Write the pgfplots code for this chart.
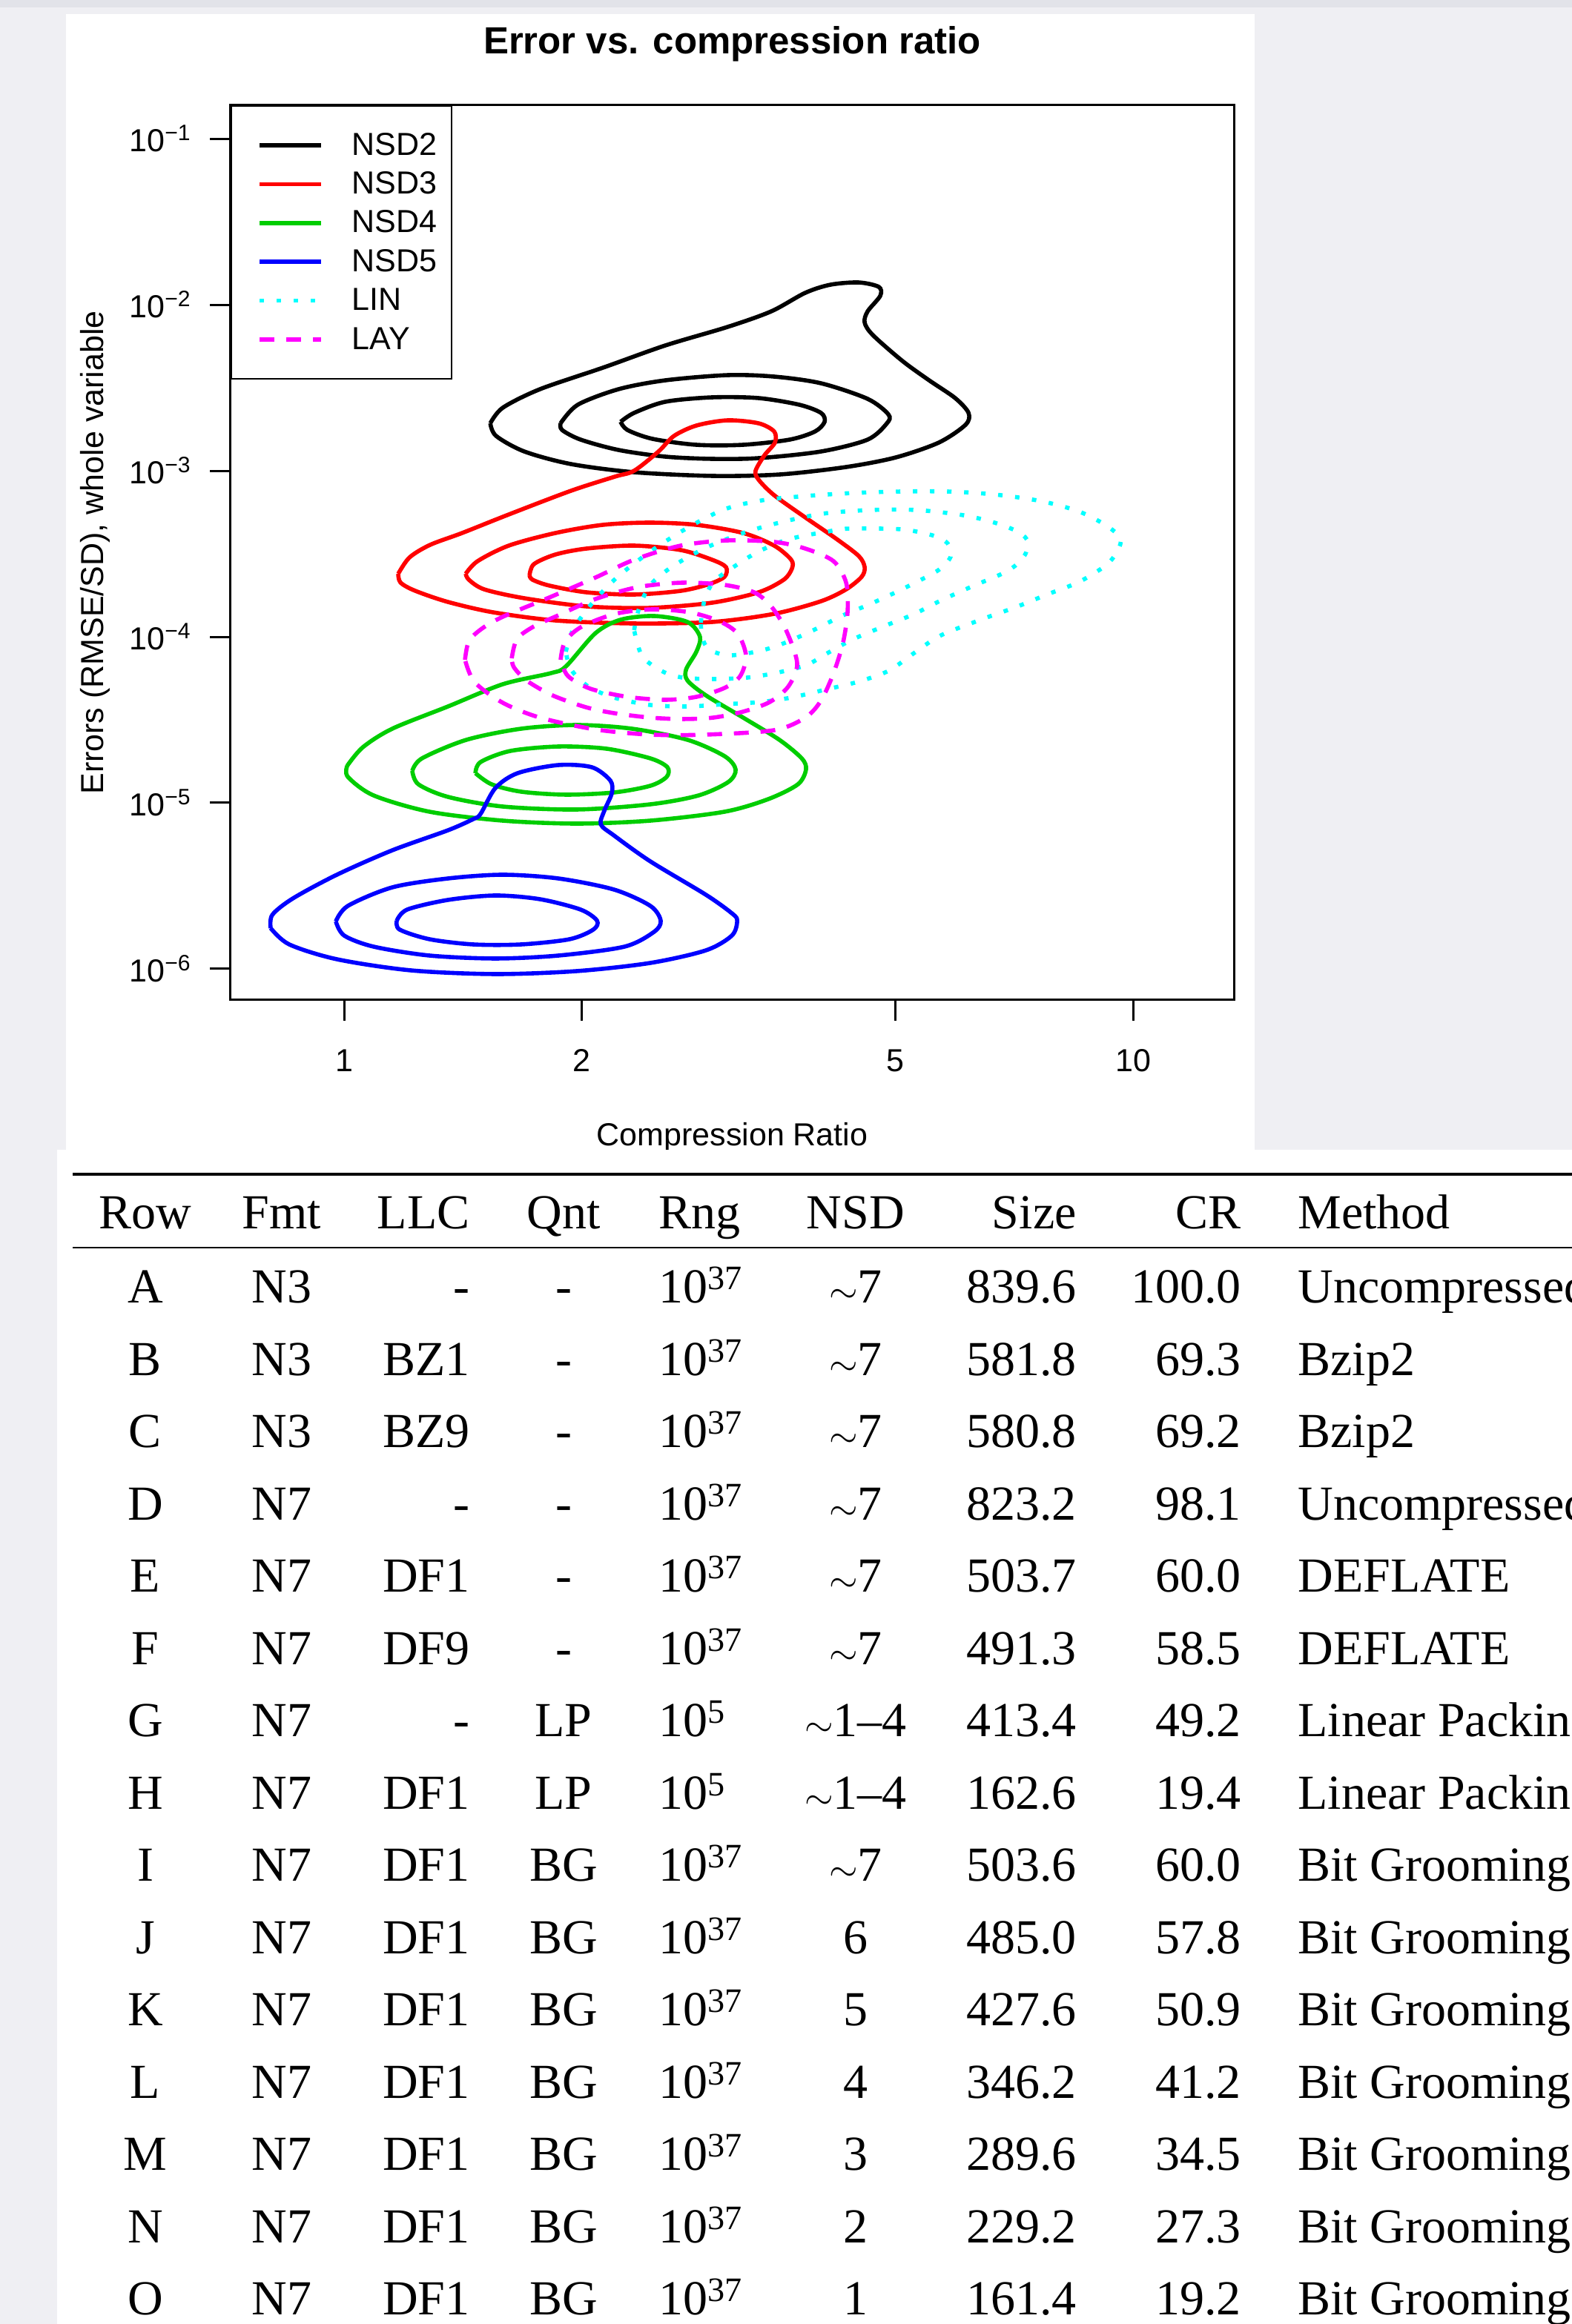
\documentclass[border=0pt]{standalone}
\usepackage{fontspec}
\setmainfont{Liberation Sans}
\newfontfamily\tablefont{Liberation Serif}
\usepackage{pgfplots}
\pgfplotsset{compat=1.18}
\definecolor{bggray}{RGB}{239,239,243}
\definecolor{topband}{RGB}{226,227,233}
\definecolor{rgreen}{RGB}{0,205,0}
\definecolor{rred}{RGB}{255,0,0}
\definecolor{rblue}{RGB}{0,0,255}
\definecolor{rcyan}{RGB}{0,255,255}
\definecolor{rmagenta}{RGB}{255,0,255}
\newcommand{\axfont}{\fontsize{21.5bp}{25bp}\selectfont}
\newcommand{\trow}[9]{%
 \node[anchor=base] at (98,\ry) {#1};
 \node[anchor=base] at (190,\ry) {#2};
 \node[anchor=base east] at (317,\ry) {#3};
 \node[anchor=base] at (380,\ry) {#4};
 \node[anchor=base west] at (444,\ry) {#5};
 \node[anchor=base] at (577,\ry) {#6};
 \node[anchor=base east] at (726,\ry) {#7};
 \node[anchor=base east] at (837,\ry) {#8};
 \node[anchor=base west] at (875,\ry) {#9};
}
\begin{document}
\begin{tikzpicture}
\begin{scope}[x=1bp,y=-1bp,shift={(0,1567.5bp)}]
 \fill[bggray] (0,0) rectangle (1060,1567.5);
 \fill[topband] (0,0) rectangle (1060,5);
 \fill[white] (44.5,9.3) rectangle (846,775.7);
\end{scope}
\begin{axis}[
  at={(155.5bp,893bp)}, anchor=south west,
  scale only axis, width=676.5bp, height=603.5bp,
  xmode=log, ymode=log,
  xmin=0.718, xmax=13.42, ymin=6.494e-7, ymax=0.1589,
  xtick={1,2,5,10}, xticklabels={1,2,5,10},
  ytick={1e-6,1e-5,1e-4,1e-3,1e-2,1e-1},
  yticklabels={10\textsuperscript{−6},10\textsuperscript{−5},10\textsuperscript{−4},10\textsuperscript{−3},10\textsuperscript{−2},10\textsuperscript{−1}},
  xminorticks=false, yminorticks=false,
  tick align=outside, tick pos=left, major tick length=14bp,
  axis line style={line width=1.5bp},
  tick style={black, line width=1.5bp},
  xticklabel style={font=\axfont, anchor=base, yshift=-34.5bp},
  yticklabel style={font=\axfont, anchor=east, inner xsep=0pt, xshift=-12.5bp},
  title={Error vs. compression ratio},
  title style={font=\bfseries\fontsize{25.5bp}{30bp}\selectfont, at={(axis description cs:0.5,1.04805)}, anchor=base},
  xlabel={Compression Ratio},
  xlabel style={font=\axfont, at={(axis description cs:0.5,-0.16321)}, anchor=base},
  ylabel={Errors (RMSE/SD), whole variable},
  ylabel style={font=\axfont, at={(axis description cs:-0.13525,0.5)}, anchor=center},
  legend style={at={(0,1)}, anchor=north west, draw=black, line width=1.1bp, fill=white,
    inner xsep=0pt, inner ysep=17bp, row sep=7.2bp, font=\axfont,
    nodes={inner sep=0pt, text height=16bp, text depth=3bp},
    /tikz/every odd column/.append style={column sep=19.5bp}},
  legend cell align=left,
  legend image code/.code={\path[draw=none,fill=none] (-19bp,0bp) -- (0bp,0bp); \draw[#1] (0bp,0bp) -- (41.5bp,0bp);},
  ct/.style={line width=2.8bp, smooth},
  lin/.style={ct, rcyan, dash pattern=on 3bp off 8.5bp},
  lay/.style={ct, rmagenta, dash pattern=on 10bp off 8bp},
]
% NSD2
\addplot[ct, black] coordinates {(1.532,1.931e-3) (1.589,2.396e-3) (1.771,3.098e-3) (2.128,4.174e-3) (2.553,5.682e-3) (3.062,7.346e-3) (3.478,9.117e-3) (3.842,1.179e-2) (4.136,1.320e-2) (4.490,1.361e-2) (4.760,1.280e-2) (4.781,1.131e-2) (4.608,9.117e-3) (4.568,7.813e-3) (4.679,6.561e-3) (5.102,4.578e-3) (5.514,3.504e-3) (5.950,2.739e-3) (6.186,2.230e-3) (6.132,1.891e-3) (5.672,1.478e-3) (5.003,1.203e-3) (4.328,1.053e-3) (3.569,9.50e-4) (2.938,9.306e-4) (2.331,9.797e-4) (1.939,1.097e-3) (1.692,1.306e-3) (1.558,1.621e-3) (1.532,1.931e-3)};
\addlegendentry{NSD2\hspace*{9.7bp}}
\addplot[ct, black, forget plot] coordinates {(1.881,1.931e-3) (1.978,2.497e-3) (2.227,3.098e-3) (2.553,3.504e-3) (3.062,3.766e-3) (3.508,3.690e-3) (4.022,3.363e-3) (4.608,2.710e-3) (4.896,2.184e-3) (4.875,1.931e-3) (4.608,1.540e-3) (4.022,1.306e-3) (3.352,1.191e-3) (2.926,1.179e-3) (2.553,1.216e-3) (2.227,1.334e-3) (1.994,1.540e-3) (1.889,1.760e-3) (1.881,1.931e-3)};
\addplot[ct, black, forget plot] coordinates {(2.241,1.971e-3) (2.331,2.230e-3) (2.553,2.602e-3) (2.926,2.767e-3) (3.352,2.739e-3) (3.776,2.497e-3) (4.022,2.230e-3) (4.064,1.971e-3) (3.953,1.724e-3) (3.671,1.540e-3) (3.204,1.433e-3) (2.796,1.433e-3) (2.460,1.556e-3) (2.286,1.760e-3) (2.241,1.971e-3)};
% NSD3
\addplot[ct, rred] coordinates {(1.171,2.396e-4) (1.210,3.004e-4) (1.285,3.577e-4) (1.411,4.217e-4) (1.617,5.453e-4) (1.939,7.576e-4) (2.203,9.21e-4) (2.331,1.0e-3) (2.503,1.306e-3) (2.619,1.621e-3) (2.796,1.872e-3) (3.062,2.012e-3) (3.352,1.931e-3) (3.508,1.724e-3) (3.516,1.478e-3) (3.411,1.241e-3) (3.323,1.0e-3) (3.352,8.84e-4) (3.508,7.123e-4) (3.842,5.233e-4) (4.208,3.884e-4) (4.490,3.066e-4) (4.568,2.628e-4) (4.529,2.299e-4) (4.328,1.931e-4) (4.022,1.638e-4) (3.508,1.375e-4) (2.926,1.228e-4) (2.331,1.203e-4) (1.853,1.254e-4) (1.545,1.404e-4) (1.354,1.621e-4) (1.231,1.891e-4) (1.179,2.118e-4) (1.171,2.396e-4)};
\addlegendentry{NSD3}
\addplot[ct, rred, forget plot] coordinates {(1.426,2.396e-4) (1.476,2.853e-4) (1.617,3.541e-4) (1.853,4.217e-4) (2.128,4.722e-4) (2.439,4.870e-4) (2.796,4.722e-4) (3.204,4.217e-4) (3.508,3.541e-4) (3.687,2.912e-4) (3.695,2.575e-4) (3.608,2.207e-4) (3.352,1.853e-4) (2.926,1.604e-4) (2.439,1.493e-4) (2.029,1.524e-4) (1.692,1.707e-4) (1.505,1.931e-4) (1.439,2.207e-4) (1.426,2.396e-4)};
\addplot[ct, rred, forget plot] coordinates {(1.718,2.347e-4) (1.740,2.739e-4) (1.853,3.130e-4) (2.029,3.399e-4) (2.331,3.541e-4) (2.671,3.329e-4) (2.926,2.912e-4) (3.048,2.628e-4) (3.035,2.299e-4) (2.900,2.075e-4) (2.671,1.891e-4) (2.331,1.797e-4) (2.029,1.853e-4) (1.821,2.033e-4) (1.733,2.207e-4) (1.718,2.347e-4)};
% NSD4
\addplot[ct, rgreen] coordinates {(1.009,1.672e-5) (1.056,2.161e-5) (1.151,2.796e-5) (1.354,3.806e-5) (1.589,5.18e-5) (1.829,6.043e-5) (1.910,6.628e-5) (2.083,1.053e-4) (2.241,1.267e-4) (2.471,1.334e-4) (2.724,1.228e-4) (2.825,1.0e-4) (2.796,8.14e-5) (2.713,6.36e-5) (2.724,5.453e-5) (2.874,4.44e-5) (3.204,3.261e-5) (3.562,2.396e-5) (3.802,1.853e-5) (3.850,1.588e-5) (3.760,1.293e-5) (3.448,1.053e-5) (3.035,8.84e-6) (2.444,7.813e-6) (1.973,7.499e-6) (1.589,7.813e-6) (1.283,8.84e-6) (1.090,1.108e-5) (1.011,1.433e-5) (1.009,1.672e-5)};
\addlegendentry{NSD4}
\addplot[ct, rgreen, forget plot] coordinates {(1.220,1.556e-5) (1.255,1.853e-5) (1.429,2.396e-5) (1.677,2.796e-5) (1.973,2.943e-5) (2.316,2.796e-5) (2.724,2.396e-5) (3.035,1.911e-5) (3.135,1.588e-5) (3.068,1.334e-5) (2.813,1.108e-5) (2.444,9.797e-6) (1.973,9.117e-6) (1.589,9.50e-6) (1.354,1.086e-5) (1.242,1.293e-5) (1.220,1.556e-5)};
\addplot[ct, rgreen, forget plot] coordinates {(1.467,1.509e-5) (1.489,1.760e-5) (1.624,2.053e-5) (1.869,2.184e-5) (2.151,2.118e-5) (2.444,1.853e-5) (2.569,1.638e-5) (2.563,1.433e-5) (2.444,1.267e-5) (2.198,1.155e-5) (1.910,1.120e-5) (1.677,1.167e-5) (1.538,1.293e-5) (1.467,1.509e-5)};
% NSD5
\addplot[ct, rblue] coordinates {(0.807,1.760e-6) (0.811,2.118e-6) (0.861,2.656e-6) (0.979,3.690e-6) (1.151,5.18e-6) (1.354,6.836e-6) (1.457,7.977e-6) (1.489,8.57e-6) (1.555,1.228e-5) (1.659,1.509e-5) (1.869,1.689e-5) (2.061,1.638e-5) (2.175,1.361e-5) (2.184,1.143e-5) (2.138,9.02e-6) (2.115,7.42e-6) (2.198,6.36e-6) (2.444,4.44e-6) (2.874,2.796e-6) (3.101,2.161e-6) (3.149,1.951e-6) (3.101,1.588e-6) (2.874,1.293e-6) (2.444,1.086e-6) (1.973,9.70e-7) (1.555,9.306e-7) (1.215,9.797e-7) (0.979,1.143e-6) (0.852,1.404e-6) (0.807,1.760e-6)};
\addlegendentry{NSD5}
\addplot[ct, rblue, forget plot] coordinates {(0.976,1.931e-6) (1.011,2.396e-6) (1.151,3.098e-6) (1.354,3.504e-6) (1.589,3.690e-6) (1.869,3.504e-6) (2.198,3.004e-6) (2.444,2.396e-6) (2.519,1.951e-6) (2.471,1.672e-6) (2.266,1.361e-6) (1.869,1.203e-6) (1.555,1.155e-6) (1.283,1.203e-6) (1.090,1.361e-6) (1.000,1.588e-6) (0.976,1.931e-6)};
\addplot[ct, rblue, forget plot] coordinates {(1.166,1.951e-6) (1.202,2.276e-6) (1.354,2.602e-6) (1.555,2.767e-6) (1.771,2.628e-6) (1.994,2.276e-6) (2.092,1.951e-6) (2.069,1.724e-6) (1.931,1.509e-6) (1.677,1.404e-6) (1.457,1.404e-6) (1.283,1.509e-6) (1.176,1.724e-6) (1.166,1.951e-6)};
% LIN
\addplot[lin] coordinates {(1.910,8.14e-5) (1.952,1.108e-4) (2.061,1.588e-4) (2.217,2.276e-4) (2.444,3.261e-4) (2.724,4.531e-4) (3.035,5.86e-4) (3.382,6.628e-4) (3.858,7.05e-4) (4.422,7.346e-4) (5.080,7.499e-4) (5.821,7.499e-4) (6.673,7.197e-4) (7.646,6.561e-4) (8.541,5.682e-4) (9.251,4.673e-4) (9.638,3.925e-4) (9.556,3.295e-4) (9.251,2.710e-4) (8.541,2.140e-4) (7.780,1.797e-4) (7.103,1.509e-4) (6.486,1.293e-4) (5.709,1.021e-4) (5.293,8.06e-5) (4.896,6.23e-5) (4.471,5.343e-5) (4.083,4.820e-5) (3.687,4.304e-5) (3.368,4.046e-5) (3.035,3.925e-5) (2.724,3.806e-5) (2.444,3.884e-5) (2.198,4.304e-5) (2.039,5.02e-5) (1.939,6.36e-5) (1.910,8.14e-5)};
\addlegendentry{LIN}
\addplot[lin, forget plot] coordinates {(2.331,1.097e-4) (2.366,1.493e-4) (2.444,2.053e-4) (2.608,2.656e-4) (2.874,3.434e-4) (3.204,4.217e-4) (3.562,4.870e-4) (4.039,5.51e-4) (4.638,5.80e-4) (5.316,5.80e-4) (6.092,5.397e-4) (6.673,4.870e-4) (7.103,4.349e-4) (7.337,3.845e-4) (7.306,3.162e-4) (7.073,2.656e-4) (6.789,2.371e-4) (6.253,2.012e-4) (5.709,1.655e-4) (5.259,1.361e-4) (4.801,1.143e-4) (4.403,9.60e-5) (4.083,7.894e-5) (3.858,6.767e-5) (3.554,6.106e-5) (3.246,5.682e-5) (2.938,5.566e-5) (2.683,5.682e-5) (2.525,6.23e-5) (2.386,7.654e-5) (2.331,1.097e-4)};
\addplot[lin, forget plot] coordinates {(2.832,1.216e-4) (2.862,1.655e-4) (2.938,2.140e-4) (3.114,2.628e-4) (3.352,3.261e-4) (3.671,3.884e-4) (4.208,4.395e-4) (4.422,4.486e-4) (5.080,4.44e-4) (5.563,4.088e-4) (5.821,3.652e-4) (5.871,3.035e-4) (5.684,2.549e-4) (5.409,2.230e-4) (5.025,1.872e-4) (4.638,1.572e-4) (4.271,1.334e-4) (3.935,1.097e-4) (3.624,9.21e-5) (3.368,8.23e-5) (3.075,7.73e-5) (2.900,8.40e-5) (2.844,9.90e-5) (2.832,1.216e-4)};
% LAY
\addplot[lay] coordinates {(1.423,7.27e-5) (1.439,9.40e-5) (1.495,1.120e-4) (1.589,1.320e-4) (1.829,1.742e-4) (2.083,2.276e-4) (2.331,2.912e-4) (2.671,3.541e-4) (3.062,3.806e-4) (3.508,3.728e-4) (3.842,3.399e-4) (4.172,2.853e-4) (4.328,2.118e-4) (4.347,1.433e-4) (4.291,9.306e-5) (4.172,6.043e-5) (4.022,4.131e-5) (3.842,3.261e-5) (3.508,2.739e-5) (2.874,2.575e-5) (2.444,2.575e-5) (2.083,2.767e-5) (1.771,3.261e-5) (1.589,4.005e-5) (1.463,5.343e-5) (1.423,7.27e-5)};
\addlegendentry{LAY}
\addplot[lay, forget plot] coordinates {(1.631,7.42e-5) (1.656,9.70e-5) (1.740,1.155e-4) (1.869,1.347e-4) (2.083,1.689e-4) (2.356,1.991e-4) (2.683,2.118e-4) (3.035,2.053e-4) (3.309,1.853e-4) (3.478,1.524e-4) (3.632,1.097e-4) (3.752,6.907e-5) (3.656,5.02e-5) (3.463,4.046e-5) (3.204,3.541e-5) (2.938,3.261e-5) (2.683,3.196e-5) (2.444,3.261e-5) (2.198,3.469e-5) (2.025,3.766e-5) (1.837,4.44e-5) (1.703,5.453e-5) (1.641,6.561e-5) (1.631,7.42e-5)};
\addplot[lay, forget plot] coordinates {(1.881,7.27e-5) (1.906,9.40e-5) (2.003,1.155e-4) (2.208,1.375e-4) (2.460,1.463e-4) (2.742,1.404e-4) (2.989,1.241e-4) (3.155,1.042e-4) (3.232,7.654e-5) (3.177,5.80e-5) (3.035,4.920e-5) (2.796,4.349e-5) (2.553,4.174e-5) (2.286,4.349e-5) (2.051,4.870e-5) (1.922,5.80e-5) (1.881,7.27e-5)};
\end{axis}
\begin{scope}[x=1bp,y=-1bp,shift={(0,1567.5bp)},
   every node/.style={inner sep=0pt, font=\tablefont\fontsize{33bp}{40bp}\selectfont}]
 \fill[white] (38.6,775.7) rectangle (1060,1567.5);
 \draw[line width=1.6bp] (49,792) -- (1070,792);
 \draw[line width=1.1bp] (49,841.5) -- (1070,841.5);
 \def\ry{829}
 \trow{Row}{Fmt}{LLC}{Qnt}{Rng}{NSD}{Size}{CR}{Method}
 \def\ry{879}
 \trow{A}{N3}{-}{-}{10\textsuperscript{37}}{$\sim$7}{839.6}{100.0}{Uncompressed}
 \def\ry{927.75}
 \trow{B}{N3}{BZ1}{-}{10\textsuperscript{37}}{$\sim$7}{581.8}{69.3}{Bzip2}
 \def\ry{976.5}
 \trow{C}{N3}{BZ9}{-}{10\textsuperscript{37}}{$\sim$7}{580.8}{69.2}{Bzip2}
 \def\ry{1025.25}
 \trow{D}{N7}{-}{-}{10\textsuperscript{37}}{$\sim$7}{823.2}{98.1}{Uncompressed}
 \def\ry{1074}
 \trow{E}{N7}{DF1}{-}{10\textsuperscript{37}}{$\sim$7}{503.7}{60.0}{DEFLATE}
 \def\ry{1122.75}
 \trow{F}{N7}{DF9}{-}{10\textsuperscript{37}}{$\sim$7}{491.3}{58.5}{DEFLATE}
 \def\ry{1171.5}
 \trow{G}{N7}{-}{LP}{10\textsuperscript{5}}{$\sim$1–4}{413.4}{49.2}{Linear Packing}
 \def\ry{1220.25}
 \trow{H}{N7}{DF1}{LP}{10\textsuperscript{5}}{$\sim$1–4}{162.6}{19.4}{Linear Packing}
 \def\ry{1269}
 \trow{I}{N7}{DF1}{BG}{10\textsuperscript{37}}{$\sim$7}{503.6}{60.0}{Bit Grooming}
 \def\ry{1317.75}
 \trow{J}{N7}{DF1}{BG}{10\textsuperscript{37}}{6}{485.0}{57.8}{Bit Grooming}
 \def\ry{1366.5}
 \trow{K}{N7}{DF1}{BG}{10\textsuperscript{37}}{5}{427.6}{50.9}{Bit Grooming}
 \def\ry{1415.25}
 \trow{L}{N7}{DF1}{BG}{10\textsuperscript{37}}{4}{346.2}{41.2}{Bit Grooming}
 \def\ry{1464}
 \trow{M}{N7}{DF1}{BG}{10\textsuperscript{37}}{3}{289.6}{34.5}{Bit Grooming}
 \def\ry{1512.75}
 \trow{N}{N7}{DF1}{BG}{10\textsuperscript{37}}{2}{229.2}{27.3}{Bit Grooming}
 \def\ry{1561.5}
 \trow{O}{N7}{DF1}{BG}{10\textsuperscript{37}}{1}{161.4}{19.2}{Bit Grooming}
\end{scope}
\pgfresetboundingbox
\useasboundingbox (0,0) rectangle (1060bp,1567.5bp);
\end{tikzpicture}
\end{document}
